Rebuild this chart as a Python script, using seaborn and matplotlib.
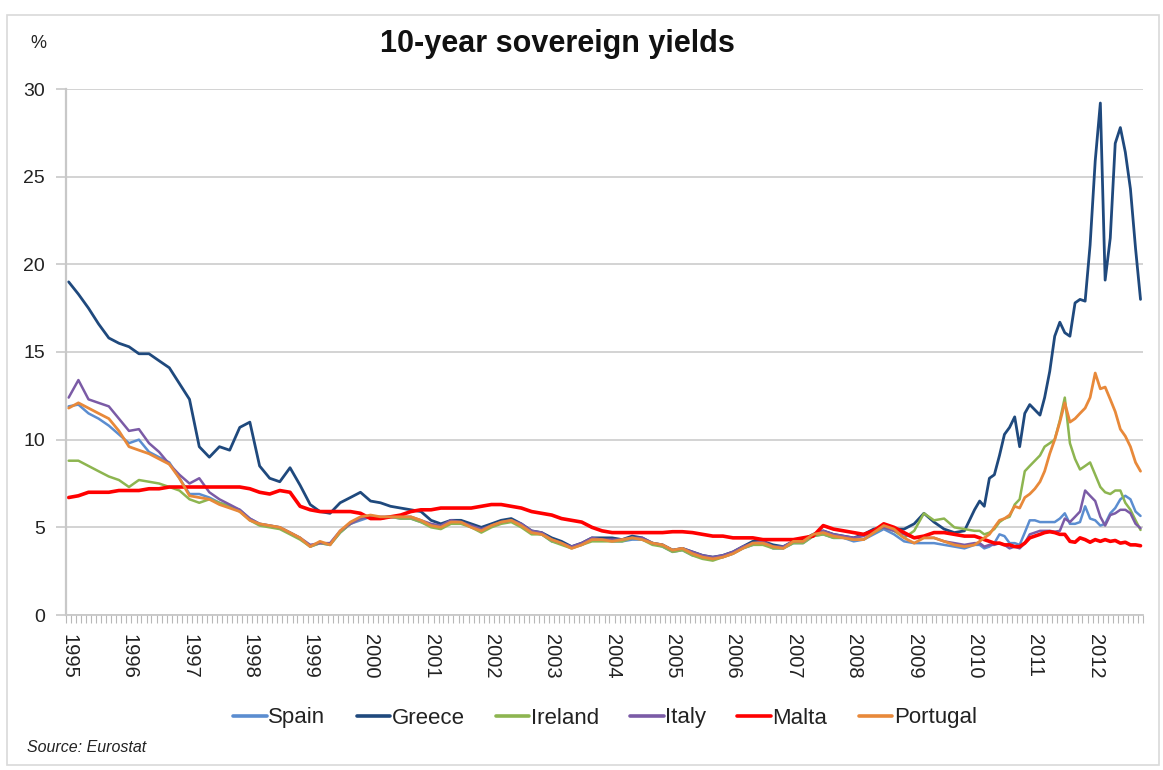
import pandas as pd
import matplotlib
matplotlib.use('Agg')
import matplotlib.pyplot as plt
import matplotlib.dates as mdates
from matplotlib.patches import Rectangle
import seaborn as sns

# bimonthly readings 1995-2009 (Jan, Mar, May, Jul, Sep, Nov), then monthly Jan 2010 - Oct 2012
dates = list(pd.date_range('1995-01-01', '2009-11-01', freq='2MS')) + \
        list(pd.date_range('2010-01-01', '2012-10-01', freq='MS'))

countries = ['Spain', 'Greece', 'Ireland', 'Italy', 'Malta', 'Portugal']

spain = [11.9, 12.0, 11.5, 11.2, 10.8, 10.3,
         9.8, 10.0, 9.3, 9.0, 8.7, 7.8,
         6.9, 6.9, 6.7, 6.4, 6.2, 6.0,
         5.5, 5.2, 5.1, 5.0, 4.7, 4.4,
         3.9, 4.1, 4.0, 4.7, 5.2, 5.4,
         5.6, 5.5, 5.6, 5.5, 5.5, 5.3,
         5.1, 5.1, 5.4, 5.3, 5.1, 4.9,
         5.1, 5.3, 5.4, 5.1, 4.7, 4.6,
         4.2, 4.1, 3.9, 4.0, 4.3, 4.3,
         4.2, 4.2, 4.3, 4.3, 4.1, 3.9,
         3.6, 3.7, 3.4, 3.3, 3.2, 3.3,
         3.5, 3.8, 4.0, 4.1, 3.8, 3.8,
         4.1, 4.1, 4.5, 4.6, 4.4, 4.4,
         4.2, 4.3, 4.6, 4.9, 4.6, 4.2,
         4.1, 4.1, 4.1, 4.0, 3.9, 3.8,
         4.0, 4.0, 3.8, 3.9, 4.1, 4.6, 4.5, 4.1, 4.1, 4.0, 4.7, 5.4,
         5.4, 5.3, 5.3, 5.3, 5.3, 5.5, 5.8, 5.2, 5.2, 5.3, 6.2, 5.5,
         5.4, 5.1, 5.2, 5.8, 6.1, 6.6, 6.8, 6.6, 5.9, 5.65]

greece = [19.0, 18.3, 17.5, 16.6, 15.8, 15.5,
          15.3, 14.9, 14.9, 14.5, 14.1, 13.2,
          12.3, 9.6, 9.0, 9.6, 9.4, 10.7,
          11.0, 8.5, 7.8, 7.6, 8.4, 7.4,
          6.3, 5.9, 5.8, 6.4, 6.7, 7.0,
          6.5, 6.4, 6.2, 6.1, 6.0, 5.9,
          5.4, 5.2, 5.4, 5.4, 5.2, 5.0,
          5.2, 5.4, 5.5, 5.2, 4.8, 4.7,
          4.4, 4.2, 3.9, 4.1, 4.4, 4.4,
          4.4, 4.3, 4.5, 4.4, 4.1, 4.0,
          3.7, 3.8, 3.6, 3.4, 3.3, 3.4,
          3.6, 3.9, 4.2, 4.2, 4.0, 3.9,
          4.2, 4.3, 4.6, 4.8, 4.6, 4.5,
          4.4, 4.6, 4.9, 5.0, 4.9, 4.9,
          5.2, 5.8, 5.3, 4.9, 4.7, 4.8,
          6.0, 6.5, 6.2, 7.8, 8.0, 9.1, 10.3, 10.7, 11.3, 9.6, 11.5, 12.0,
          11.7, 11.4, 12.4, 13.9, 15.9, 16.7, 16.1, 15.9, 17.8, 18.0, 17.9, 21.1,
          25.9, 29.2, 19.1, 21.5, 26.9, 27.8, 26.4, 24.3, 20.9, 18.0]

ireland = [8.8, 8.8, 8.5, 8.2, 7.9, 7.7,
           7.3, 7.7, 7.6, 7.5, 7.3, 7.1,
           6.6, 6.4, 6.6, 6.4, 6.2, 5.9,
           5.4, 5.1, 5.0, 4.9, 4.6, 4.3,
           3.9, 4.1, 4.0, 4.7, 5.2, 5.5,
           5.6, 5.5, 5.6, 5.5, 5.5, 5.3,
           5.0, 4.9, 5.2, 5.2, 5.0, 4.7,
           5.0, 5.2, 5.3, 5.0, 4.6, 4.6,
           4.2, 4.0, 3.8, 4.0, 4.2, 4.2,
           4.2, 4.2, 4.4, 4.3, 4.0, 3.9,
           3.6, 3.7, 3.4, 3.2, 3.1, 3.3,
           3.5, 3.8, 4.0, 4.0, 3.8, 3.8,
           4.1, 4.1, 4.5, 4.6, 4.4, 4.4,
           4.3, 4.3, 4.7, 5.0, 4.8, 4.4,
           4.8, 5.8, 5.4, 5.5, 5.0, 4.9,
           4.8, 4.8, 4.6, 4.7, 4.9, 5.3, 5.5, 5.6, 6.3, 6.6, 8.2, 8.5,
           8.8, 9.1, 9.6, 9.8, 10.0, 11.1, 12.4, 9.8, 8.9, 8.3, 8.5, 8.7,
           8.0, 7.3, 7.0, 6.9, 7.1, 7.1, 6.4, 6.0, 5.4, 4.85]

italy = [12.4, 13.4, 12.3, 12.1, 11.9, 11.2,
         10.5, 10.6, 9.8, 9.3, 8.6, 8.0,
         7.5, 7.8, 7.0, 6.6, 6.3, 6.0,
         5.5, 5.2, 5.1, 5.0, 4.7, 4.4,
         4.0, 4.1, 4.1, 4.8, 5.2, 5.5,
         5.6, 5.6, 5.6, 5.6, 5.6, 5.4,
         5.2, 5.1, 5.4, 5.3, 5.1, 4.9,
         5.1, 5.3, 5.4, 5.2, 4.8, 4.7,
         4.3, 4.1, 3.9, 4.1, 4.4, 4.3,
         4.3, 4.3, 4.4, 4.4, 4.1, 4.0,
         3.7, 3.8, 3.6, 3.4, 3.3, 3.4,
         3.6, 3.9, 4.1, 4.2, 3.9, 3.9,
         4.2, 4.2, 4.6, 4.8, 4.6, 4.5,
         4.4, 4.5, 4.8, 5.0, 4.8, 4.6,
         4.4, 4.4, 4.4, 4.2, 4.1, 4.0,
         4.1, 4.1, 3.9, 4.0, 4.0, 4.1, 4.0, 3.8, 3.9, 3.8, 4.1, 4.6,
         4.7, 4.8, 4.8, 4.8, 4.75, 4.8, 5.5, 5.3, 5.6, 5.9, 7.1, 6.8,
         6.5, 5.6, 5.1, 5.7, 5.8, 6.0, 6.0, 5.8, 5.2, 4.95]

malta = [6.7, 6.8, 7.0, 7.0, 7.0, 7.1,
         7.1, 7.1, 7.2, 7.2, 7.3, 7.3,
         7.3, 7.3, 7.3, 7.3, 7.3, 7.3,
         7.2, 7.0, 6.9, 7.1, 7.0, 6.2,
         6.0, 5.9, 5.9, 5.9, 5.9, 5.8,
         5.5, 5.5, 5.6, 5.7, 5.9, 6.0,
         6.0, 6.1, 6.1, 6.1, 6.1, 6.2,
         6.3, 6.3, 6.2, 6.1, 5.9, 5.8,
         5.7, 5.5, 5.4, 5.3, 5.0, 4.8,
         4.7, 4.7, 4.7, 4.7, 4.7, 4.7,
         4.75, 4.75, 4.7, 4.6, 4.5, 4.5,
         4.4, 4.4, 4.4, 4.3, 4.3, 4.3,
         4.3, 4.4, 4.5, 5.1, 4.9, 4.8,
         4.7, 4.6, 4.8, 5.2, 5.0, 4.7,
         4.4, 4.5, 4.7, 4.7, 4.6, 4.5,
         4.5, 4.4, 4.3, 4.2, 4.1, 4.1, 4.0, 4.0, 3.9, 3.9, 4.1, 4.4,
         4.5, 4.6, 4.7, 4.75, 4.7, 4.6, 4.6, 4.2, 4.15, 4.4, 4.3, 4.15,
         4.3, 4.2, 4.3, 4.2, 4.25, 4.1, 4.15, 4.0, 4.0, 3.95]

portugal = [11.8, 12.1, 11.8, 11.5, 11.2, 10.5,
            9.6, 9.4, 9.2, 8.9, 8.6, 7.8,
            6.8, 6.7, 6.6, 6.3, 6.1, 5.9,
            5.4, 5.2, 5.1, 5.0, 4.7, 4.4,
            3.9, 4.2, 4.0, 4.8, 5.3, 5.6,
            5.7, 5.6, 5.6, 5.6, 5.6, 5.4,
            5.1, 5.0, 5.3, 5.3, 5.0, 4.8,
            5.1, 5.3, 5.4, 5.1, 4.7, 4.6,
            4.3, 4.1, 3.8, 4.0, 4.3, 4.3,
            4.2, 4.3, 4.4, 4.3, 4.1, 4.0,
            3.7, 3.8, 3.5, 3.3, 3.2, 3.3,
            3.5, 3.8, 4.1, 4.1, 3.9, 3.8,
            4.2, 4.2, 4.6, 4.7, 4.5, 4.4,
            4.3, 4.3, 4.7, 5.1, 4.9, 4.4,
            4.1, 4.4, 4.4, 4.2, 4.0, 3.9,
            4.0, 4.2, 4.4, 4.6, 5.0, 5.4, 5.5, 5.7, 6.2, 6.1, 6.7, 6.9,
            7.2, 7.6, 8.2, 9.2, 10.0, 11.0, 12.1, 11.0, 11.2, 11.5, 11.8, 12.4,
            13.8, 12.9, 13.0, 12.3, 11.6, 10.6, 10.2, 9.6, 8.7, 8.2]

colors = {'Spain': '#5B8DD0', 'Greece': '#1F497D', 'Ireland': '#8DB550',
          'Italy': '#7B5BA6', 'Malta': '#FF0000', 'Portugal': '#E8893A'}
widths = {'Spain': 1.8, 'Greece': 2.0, 'Ireland': 1.8,
          'Italy': 1.8, 'Malta': 2.6, 'Portugal': 2.0}

df = pd.DataFrame({'Date': dates, 'Spain': spain, 'Greece': greece, 'Ireland': ireland,
                   'Italy': italy, 'Malta': malta, 'Portugal': portugal})
dfm = pd.melt(df, id_vars=['Date'], var_name='Country', value_name='Yield')

sns.set_theme(style='white')
plt.rcParams['font.family'] = ['Liberation Sans', 'DejaVu Sans']

fig = plt.figure(figsize=(11.63, 7.70), dpi=100)
ax = fig.add_axes([66/1163, 1 - 615/770, (1143 - 66)/1163, (615 - 89)/770])

for c in countries:
    sns.lineplot(data=dfm[dfm['Country'] == c], x='Date', y='Yield',
                 color=colors[c], linewidth=widths[c], label=c, ax=ax)

ax.set_ylim(0, 30)
ax.set_yticks([0, 5, 10, 15, 20, 25, 30])
ax.set_xlim(pd.Timestamp('1994-12-16'), pd.Timestamp('2012-10-16'))
ax.yaxis.grid(True, color='#D0D0D0', linewidth=1.3)
ax.set_axisbelow(True)

ax.xaxis.set_major_locator(mdates.YearLocator())
ax.xaxis.set_major_formatter(mdates.DateFormatter('%Y'))
ax.xaxis.set_minor_locator(mdates.MonthLocator(bymonthday=16))
ax.tick_params(which='both', bottom=True, left=True)
ax.tick_params(axis='x', which='major', length=0, pad=14, labelsize=14.5,
               labelrotation=-90, labelcolor='#222222')
ax.tick_params(axis='x', which='minor', length=6, width=0.8, color='#B8B8B8', direction='out')
ax.tick_params(axis='y', which='major', length=7, width=1.2, color='#C8C8C8',
               direction='out', labelsize=14, pad=8, labelcolor='#222222')
for lbl in ax.get_xticklabels():
    lbl.set_verticalalignment('top')

for s in ['top', 'right']:
    ax.spines[s].set_visible(False)
ax.spines['left'].set_color('#C8C8C8')
ax.spines['left'].set_linewidth(1.6)
ax.spines['bottom'].set_color('#C8C8C8')
ax.spines['bottom'].set_linewidth(1.3)
ax.set_xlabel('')
ax.set_ylabel('')

leg = ax.legend(loc='center', bbox_to_anchor=(605/1163, 1 - 718/770),
                bbox_transform=fig.transFigure, ncol=6, frameon=False,
                fontsize=16, handlelength=1.5, handletextpad=0.08,
                columnspacing=1.4)
for t in leg.get_texts():
    t.set_color('#222222')
for h in leg.get_lines():
    h.set_linewidth(2.6)

fig.text(557/1163, 1 - 44/770, '10-year sovereign yields', ha='center', va='center',
         fontsize=22, fontweight='bold', color='#111111')
fig.text(38/1163, 1 - 43/770, '%', ha='center', va='center', fontsize=13, color='#222222')
fig.text(27/1163, 1 - 748/770, 'Source: Eurostat', ha='left', va='center',
         fontsize=11.5, style='italic', color='#222222')

# light frame around the whole chart
fig.patches.append(Rectangle((7/1163, 1 - 765/770), 1152/1163, 750/770,
                             transform=fig.transFigure, fill=False,
                             edgecolor='#D9D9D9', linewidth=1.2))

fig.savefig('out.png', dpi=100)
plt.close()
